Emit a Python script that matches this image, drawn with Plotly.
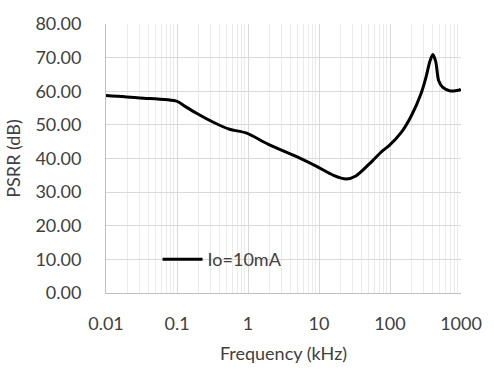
import plotly.graph_objects as go

freq_khz = [0.01, 0.03, 0.1, 0.13, 0.194, 0.33, 0.55, 0.94, 1.94, 5.66, 9.4, 16, 24.2, 33, 56.6, 77.6, 97, 146, 200, 274, 321, 365, 401, 440, 484, 550, 706, 968, 1000]
psrr_db = [58.7, 58.0, 57.0, 55.5, 53.3, 50.7, 48.7, 47.6, 44.2, 39.9, 37.6, 35.0, 33.9, 34.8, 39.3, 42.2, 43.8, 47.9, 52.7, 59.3, 64.1, 68.9, 70.9, 68.9, 63.2, 61.2, 60.1, 60.4, 60.7]
x_tickvals = [0.01, 0.1, 1, 10, 100, 1000]
x_ticktext = ["0.01", "0.1", "1", "10", "100", "1000"]
series_name = "Io=10mA"

FONT = "Lato"
TXT = "#404040"
FS = 18

fig = go.Figure()
fig.add_trace(go.Scatter(
    x=freq_khz, y=psrr_db, mode="lines", name=series_name,
    line=dict(color="black", width=3, shape="spline", smoothing=0.8),
))

# white background behind legend, between grid and traces
fig.add_shape(type="rect", xref="paper", yref="paper",
              x0=(124 - 106) / 365, x1=(306 - 106) / 365,
              y0=(295 - 279) / 281, y1=(295 - 242) / 281,
              fillcolor="white", line=dict(width=0), layer="between")

fig.update_layout(
    width=494, height=372,
    margin=dict(l=106, r=23, t=14, b=77),
    paper_bgcolor="white", plot_bgcolor="white",
    font=dict(family=FONT, size=FS, color=TXT),
    showlegend=True,
    legend=dict(x=(159 - 106) / 365, y=(295 - 260) / 281, xanchor="left", yanchor="middle",
                bgcolor="rgba(0,0,0,0)", font=dict(family=FONT, size=FS, color=TXT),
                itemwidth=40),
    xaxis=dict(
        type="log", range=[-2, 3],
        tickvals=x_tickvals, ticktext=x_ticktext,
        showgrid=True, gridcolor="#d9d9d9", gridwidth=1,
        minor=dict(showgrid=True, gridcolor="#ebebeb", dtick="D1", ticks=""),
        showline=True, linecolor="#bfbfbf", linewidth=1,
        ticks="", zeroline=False, ticklabelstandoff=14,
        title=dict(text="Frequency (kHz)", font=dict(family=FONT, size=FS, color=TXT), standoff=14),
    ),
    yaxis=dict(
        range=[0, 80], dtick=10, tickformat=".2f",
        showgrid=True, gridcolor="#d9d9d9", gridwidth=1,
        showline=True, linecolor="#bfbfbf", linewidth=1,
        ticks="", zeroline=False, ticklabelstandoff=20,
        title=dict(text="PSRR (dB)", font=dict(family=FONT, size=FS, color=TXT), standoff=10),
    ),
)

fig.write_html("out.html")
